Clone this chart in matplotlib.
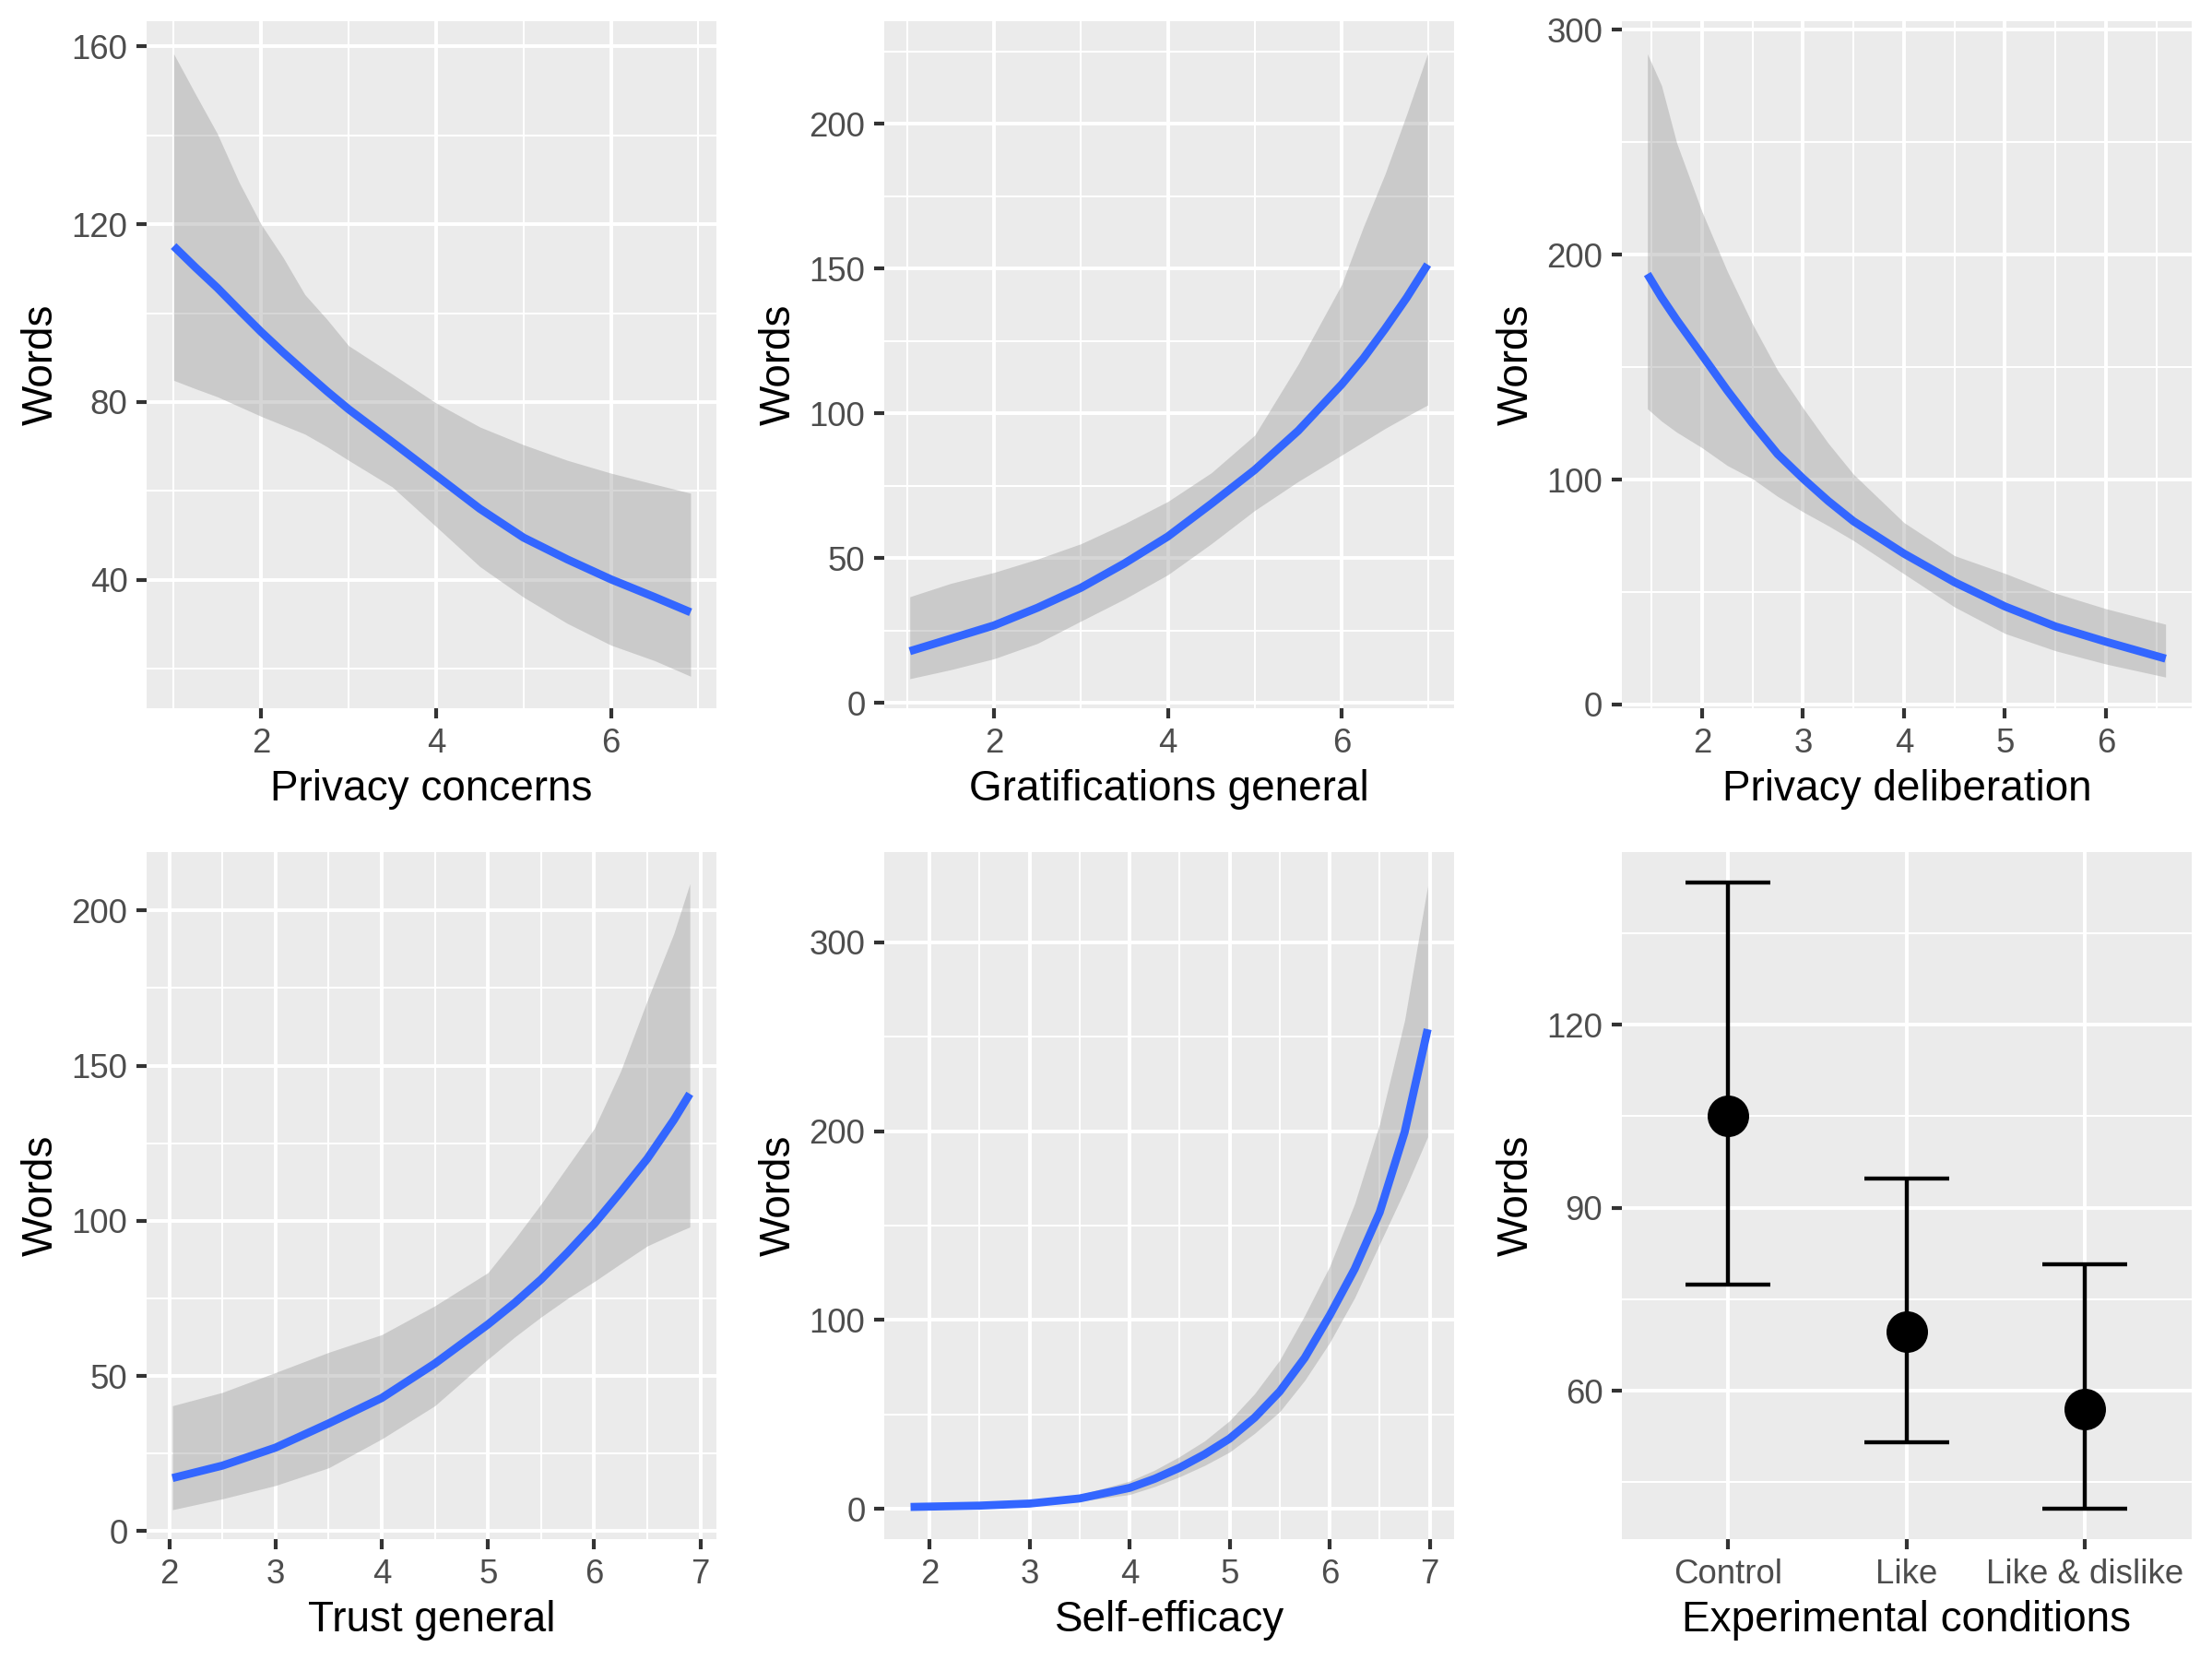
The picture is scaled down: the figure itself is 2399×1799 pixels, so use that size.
import matplotlib
matplotlib.use("Agg")
import matplotlib.pyplot as plt
import numpy as np

# Predicted word counts (fit + 95% band)

# Privacy concerns
pc_x = [1.0, 1.25, 1.5, 1.75, 2.0, 2.25, 2.5, 2.75, 3.0, 3.5, 4.0, 4.5, 5.0, 5.5, 6.0, 6.5, 6.91]
pc_fit = [115.1, 110.3, 105.7, 100.7, 95.8, 91.2, 86.8, 82.5, 78.4, 71, 63.5, 56, 49.5, 44.6, 40.1, 36.1, 32.7]
pc_upper = [158.4, 149.3, 140.4, 129.4, 120, 112.6, 104.2, 98.7, 92.7, 86.3, 79.8, 74.4, 70.4, 66.9, 64, 61.5, 59.5]
pc_lower = [84.9, 83, 81.2, 79, 76.8, 74.8, 72.8, 70, 66.9, 60.9, 52, 43, 36.1, 30.2, 25.3, 21.8, 18.3]

# Gratifications general
gr_x = [1.03, 1.5, 2.0, 2.5, 3.0, 3.5, 4.0, 4.5, 5.0, 5.5, 6.0, 6.25, 6.5, 6.75, 6.99]
gr_fit = [17.9, 22.2, 26.8, 32.9, 39.8, 48.2, 57.5, 68.8, 80.5, 94, 110, 119, 129.2, 140, 151.4]
gr_upper = [36.7, 41.3, 45.1, 49.7, 55, 61.9, 69.6, 79.5, 92.5, 117, 144.5, 164.4, 182.7, 203.4, 224.3]
gr_lower = [8.4, 11.5, 15.3, 20.6, 28.3, 35.9, 44.3, 55, 66.5, 76.5, 85.6, 90.2, 94.8, 99, 102.9]

# Privacy deliberation
pd_x = [1.46, 1.6, 1.75, 2.0, 2.25, 2.5, 2.75, 3.0, 3.25, 3.5, 4.0, 4.5, 5.0, 5.5, 6.0, 6.59]
pd_fit = [191.4, 181, 171, 155.4, 139.7, 125, 111.3, 100.5, 90.5, 81.5, 67.1, 54.4, 43.6, 34.7, 27.9, 20.4]
pd_upper = [289.3, 275.2, 249.7, 219.2, 192.7, 169.2, 148.5, 131.9, 116.2, 102.4, 80.9, 66.2, 58.3, 49.5, 42.6, 35.7]
pd_lower = [131.5, 126, 121.1, 114.2, 106.3, 100.4, 92.5, 85.7, 79.5, 72.9, 58.1, 43.4, 31.6, 23.9, 18, 12.2]

# Trust general
tr_x = [2.03, 2.5, 3.0, 3.5, 4.0, 4.5, 5.0, 5.25, 5.5, 5.75, 6.0, 6.25, 6.5, 6.75, 6.9]
tr_fit = [17.1, 21.1, 26.9, 34.7, 42.9, 54, 66.6, 73.5, 81.1, 89.8, 99, 109.3, 120, 132.5, 140.9]
tr_upper = [40.4, 44.7, 51.1, 57.6, 63.3, 72.6, 83.3, 94, 105.4, 117.6, 129.7, 148.3, 171, 192.6, 208.6]
tr_lower = [6.9, 10.4, 14.7, 20.4, 29.7, 40.4, 55.4, 62.5, 69, 75, 80.4, 86.2, 91.9, 95.8, 98]

# Self-efficacy
se_x = [1.81, 2.5, 3.0, 3.5, 4.0, 4.25, 4.5, 4.75, 5.0, 5.25, 5.5, 5.75, 6.0, 6.25, 6.5, 6.75, 6.98]
se_fit = [1.0, 1.7, 2.8, 5.5, 11.1, 15.9, 21.8, 28.9, 37.2, 48.3, 62.1, 79.9, 102.4, 127, 157, 199.5, 254]
se_upper = [1.5, 2.3, 3.7, 7.5, 14.7, 20.5, 27.7, 36, 46.7, 61, 78.7, 102.4, 128.4, 161.6, 204, 258.8, 329.9]
se_lower = [0.6, 1.2, 1.7, 4, 7.6, 11.8, 17, 23, 30.1, 40, 51.4, 68, 88, 111.8, 140.3, 168.7, 197]

# Experimental conditions
cond_labels = ["Control", "Like", "Like & dislike"]
cond_mean = [105, 69.7, 57.0]
cond_upper = [143.3, 94.8, 80.7]
cond_lower = [77.4, 51.6, 40.7]

BG = "#EBEBEB"
GRID = "white"
TICK_COL = "#333333"
TEXT_COL = "#4D4D4D"
LINE_BLUE = "#3366FF"

plt.rcParams['font.family'] = ['Liberation Sans', 'DejaVu Sans']


def style_axes(ax, xlim, ylim, xmajor, xminor, ymajor, yminor, xlabel):
    ax.set_facecolor(BG)
    ax.set_xlim(*xlim)
    ax.set_ylim(*ylim)
    ax.set_xticks(xmajor)
    ax.set_xticks(xminor, minor=True)
    ax.set_yticks(ymajor)
    ax.set_yticks(yminor, minor=True)
    ax.grid(which='major', color=GRID, linewidth=0.95)
    ax.grid(which='minor', color=GRID, linewidth=0.5)
    ax.set_axisbelow(True)
    for s in ax.spines.values():
        s.set_visible(False)
    ax.tick_params(which='major', length=2.75, width=1.0, color=TICK_COL,
                   labelsize=8.8, labelcolor=TEXT_COL, pad=2.2)
    ax.tick_params(which='minor', length=0)
    ax.set_xlabel(xlabel, fontsize=11, color='black', labelpad=2.5)
    ax.set_ylabel("Words", fontsize=11, color='black', labelpad=2.5)


def smooth_panel(ax, x, fit, lower, upper):
    ax.fill_between(x, lower, upper, color='#999999', alpha=0.4, linewidth=0)
    ax.plot(x, fit, color=LINE_BLUE, linewidth=2.1, solid_capstyle='butt',
            solid_joinstyle='round')


def main():
    fig = plt.figure(figsize=(2399 / 300, 1799 / 300), dpi=300)

    lefts = [0.0663, 0.3998, 0.7332]
    w = 0.2576
    h = 0.4141
    bottoms = [0.5731, 0.0723]

    ax1 = fig.add_axes([lefts[0], bottoms[0], w, h])
    smooth_panel(ax1, pc_x, pc_fit, pc_lower, pc_upper)
    style_axes(ax1, (0.692, 7.206), (11.1, 165.7), [2, 4, 6], [1, 3, 5, 7],
               [40, 80, 120, 160], [20, 60, 100, 140], "Privacy concerns")

    ax2 = fig.add_axes([lefts[1], bottoms[0], w, h])
    smooth_panel(ax2, gr_x, gr_fit, gr_lower, gr_upper)
    style_axes(ax2, (0.737, 7.295), (-1.8, 235.4), [2, 4, 6], [1, 3, 5, 7],
               [0, 50, 100, 150, 200], [25, 75, 125, 175, 225], "Gratifications general")

    ax3 = fig.add_axes([lefts[2], bottoms[0], w, h])
    smooth_panel(ax3, pd_x, pd_fit, pd_lower, pd_upper)
    style_axes(ax3, (1.207, 6.848), (-1.65, 303.8), [2, 3, 4, 5, 6],
               [1.5, 2.5, 3.5, 4.5, 5.5, 6.5],
               [0, 100, 200, 300], [50, 150, 250], "Privacy deliberation")

    ax4 = fig.add_axes([lefts[0], bottoms[1], w, h])
    smooth_panel(ax4, tr_x, tr_fit, tr_lower, tr_upper)
    style_axes(ax4, (1.787, 7.151), (-2.56, 218.8), [2, 3, 4, 5, 6, 7],
               [2.5, 3.5, 4.5, 5.5, 6.5],
               [0, 50, 100, 150, 200], [25, 75, 125, 175], "Trust general")

    ax5 = fig.add_axes([lefts[1], bottoms[1], w, h])
    smooth_panel(ax5, se_x, se_fit, se_lower, se_upper)
    style_axes(ax5, (1.548, 7.245), (-16, 347.8), [2, 3, 4, 5, 6, 7],
               [2.5, 3.5, 4.5, 5.5, 6.5],
               [0, 100, 200, 300], [50, 150, 250], "Self-efficacy")

    ax6 = fig.add_axes([lefts[2], bottoms[1], w, h])
    pos = np.arange(1, len(cond_labels) + 1)
    mean = np.array(cond_mean)
    yerr = [mean - np.array(cond_lower), np.array(cond_upper) - mean]
    ax6.errorbar(pos, mean, yerr=yerr, fmt='none', ecolor='black',
                 elinewidth=1.05, capsize=11, capthick=1.05, zorder=3)
    ax6.plot(pos, mean, 'o', color='black', markersize=9.8, zorder=4)
    style_axes(ax6, (0.403, 3.6), (35.7, 148.3), list(pos), [],
               [60, 90, 120], [45, 75, 105, 135], "Experimental conditions")
    ax6.set_xticklabels(cond_labels)

    fig.savefig("out.png", dpi=300, facecolor='white')


if __name__ == "__main__":
    main()
